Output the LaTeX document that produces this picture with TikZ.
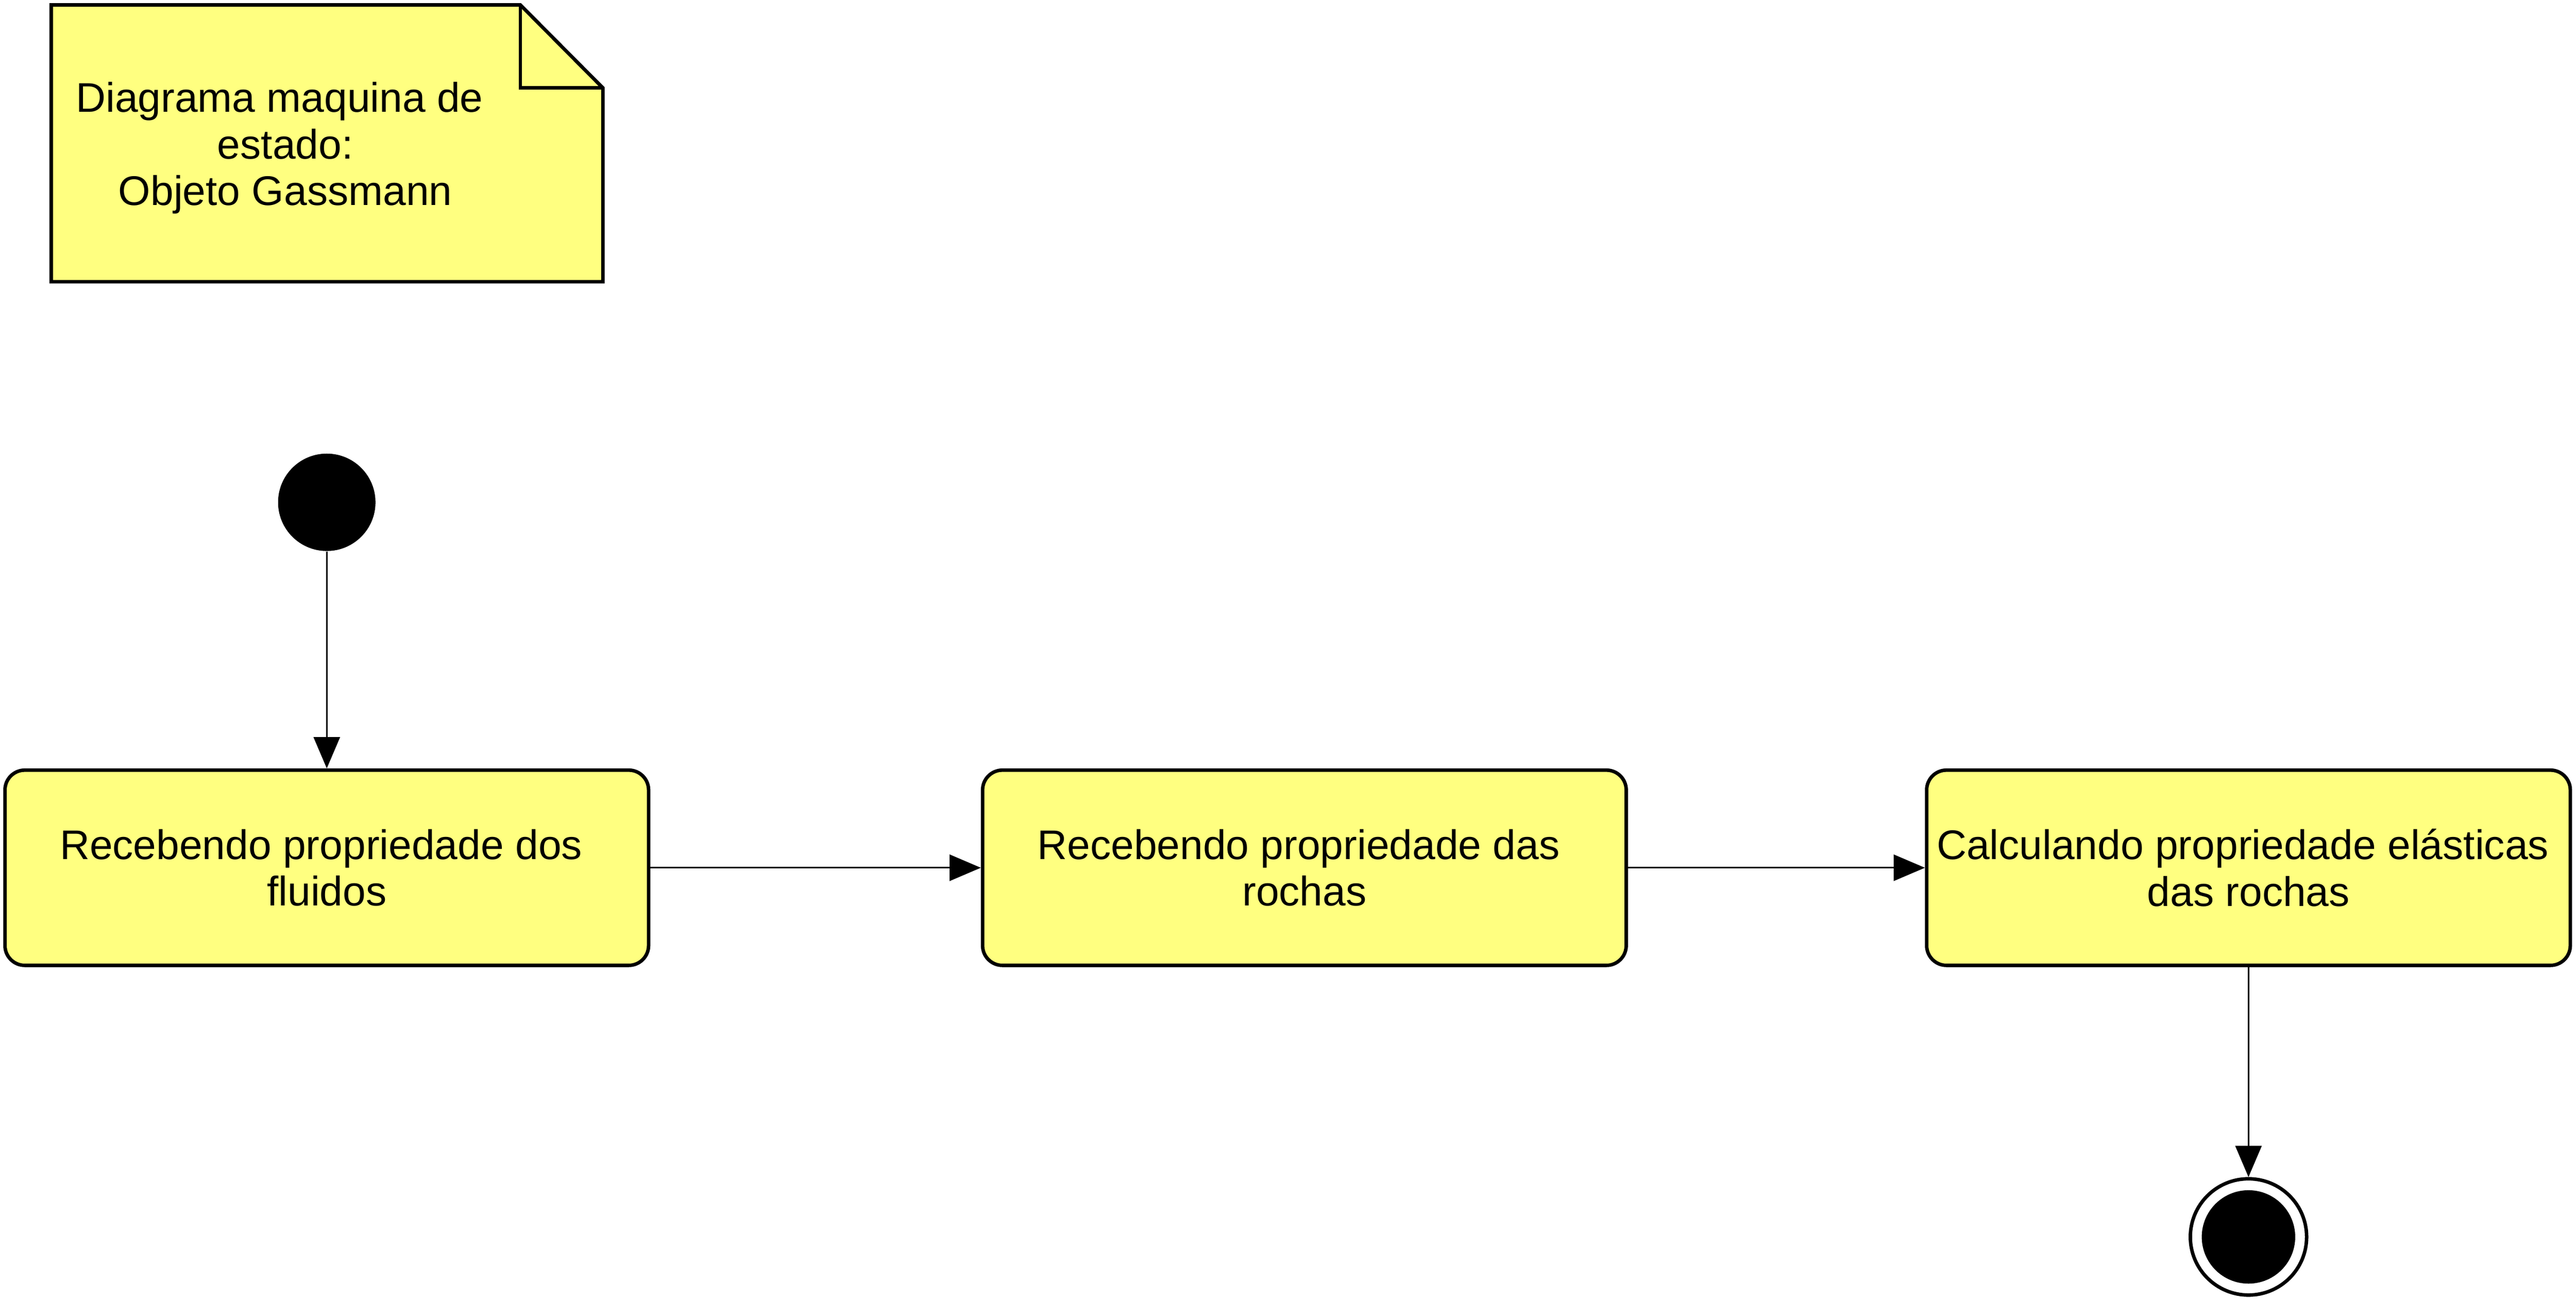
\documentclass[tikz,border=0pt]{standalone}
\usepackage{fontspec}
\setmainfont{Liberation Sans}
\usetikzlibrary{arrows.meta}
\definecolor{notefill}{RGB}{255,255,128}

\begin{document}
\begin{tikzpicture}[
        state/.style={
            rectangle,
            rounded corners=0.4cm,
            draw,
            line width=2pt,
            fill=notefill,
            minimum width=12.95cm,
            minimum height=3.93cm,
            align=center,
            font=\fontsize{23.7}{26.75}\selectfont
        },
        notetext/.style={
            align=center,
            font=\fontsize{23.7}{26.75}\selectfont
        },
        startnode/.style={circle, fill, inner sep=0, minimum size=1.96cm},
        endnode/.style={circle, draw, line width=2pt, inner sep=0, minimum size=2.34cm},
        flow/.style={-{Triangle[length=6.3mm, width=5.3mm]}, line width=0.85pt}
    ]

    % whole page, (0,0) at left down corner
    \useasboundingbox (0,0) rectangle (51.83,26.18);

    % --- note with folded corner ---
    \filldraw[fill=notefill, line width=2pt]
        (1.03,26.08) -- (10.47,26.08) -- (12.13,24.41) -- (12.13,20.51) -- (1.03,20.51) -- cycle;
    \draw[line width=2pt] (10.47,26.08) -- (10.47,24.41) -- (12.13,24.41);
    \node[notetext] (title) at (5.74,23.20) {Diagrama maquina de\hphantom{\ }\\estado:\\Objeto Gassmann};

    % (name, x, text)
    \def\statedata{%
        fluidos/6.575/{Recebendo propriedade dos\hphantom{\ }\\fluidos},
        rochas/26.245/{Recebendo propriedade das\hphantom{\ }\\rochas},
        elasticas/45.24/{Calculando propriedade elásticas\hphantom{\ }\\das rochas}}

    % states
    \foreach \id/\x/\txt in \statedata {
        \node[state] (\id) at (\x, 8.715) {\txt};
    }

    % initial and final state
    \node[startnode] (inicio) at (6.575,16.07) {};
    \node[endnode] (fim) at (45.24,1.285) {};
    \fill (fim.center) circle (0.94);

    % --- transitions ---
    \foreach \a/\b in {inicio/fluidos, fluidos/rochas, rochas/elasticas, elasticas/fim} {
        \draw[flow] (\a) -- (\b);
    }

\end{tikzpicture}
\end{document}
